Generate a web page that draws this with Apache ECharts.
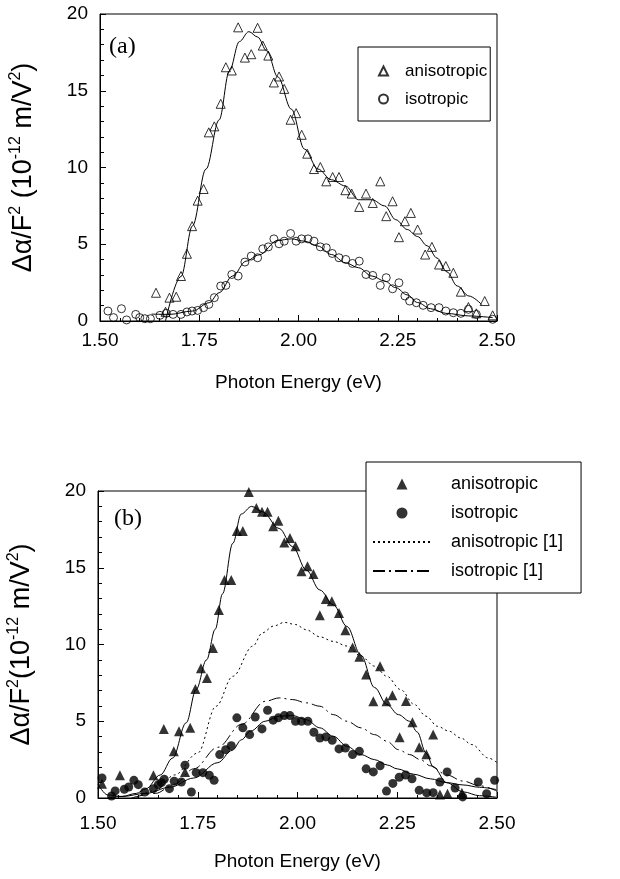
<!DOCTYPE html>
<html>
<head>
<meta charset="utf-8">
<script src="https://cdn.jsdelivr.net/npm/echarts/dist/echarts.min.js"></script>
<style>
  html, body { margin: 0; padding: 0; background: #fff; }
  #chart { width: 620px; height: 879px; }
</style>
</head>
<body>
<div id="chart"></div>
<script>
// ---- panel (a): measured points ----
const aAnisoE = [1.641, 1.665, 1.675, 1.692, 1.704, 1.719, 1.732, 1.746, 1.761, 1.774, 1.788, 1.804, 1.817, 1.832, 1.848, 1.865, 1.881, 1.897, 1.910, 1.924, 1.938, 1.951, 1.964, 1.980, 1.994, 2.008, 2.022, 2.039, 2.055, 2.070, 2.086, 2.102, 2.118, 2.134, 2.153, 2.170, 2.187, 2.206, 2.221, 2.237, 2.253, 2.268, 2.283, 2.300, 2.319, 2.336, 2.354, 2.371, 2.390, 2.409, 2.428, 2.448, 2.469, 2.489];
const aAnisoV = [1.84, 0.6, 1.52, 1.58, 2.93, 4.38, 6.18, 7.84, 8.6, 12.29, 12.68, 14.15, 16.53, 16.32, 19.13, 17.16, 17.38, 19.1, 17.94, 17.29, 15.54, 15.93, 15.12, 13.11, 13.54, 12.13, 10.9, 9.9, 10.03, 9.1, 9.38, 9.38, 8.52, 8.3, 7.43, 8.3, 7.69, 9.1, 6.83, 7.8, 5.46, 6.5, 7.04, 5.96, 4.33, 4.83, 3.68, 3.58, 3.14, 1.91, 0.91, 0.5, 1.3, 0.37];

const aIsoE = [1.520, 1.534, 1.554, 1.567, 1.590, 1.600, 1.613, 1.627, 1.651, 1.667, 1.684, 1.704, 1.719, 1.732, 1.746, 1.761, 1.774, 1.788, 1.804, 1.817, 1.832, 1.848, 1.865, 1.881, 1.897, 1.910, 1.924, 1.938, 1.951, 1.964, 1.980, 1.994, 2.008, 2.024, 2.039, 2.055, 2.070, 2.085, 2.102, 2.119, 2.136, 2.153, 2.170, 2.187, 2.206, 2.221, 2.237, 2.253, 2.268, 2.280, 2.297, 2.314, 2.334, 2.354, 2.371, 2.390, 2.409, 2.428, 2.448, 2.489];
const aIsoV = [0.65, 0.22, 0.8, 0.07, 0.43, 0.22, 0.15, 0.15, 0.37, 0.5, 0.43, 0.43, 0.59, 0.65, 0.69, 0.87, 1.08, 1.52, 2.28, 2.32, 3.03, 2.93, 3.84, 4.23, 4.12, 4.7, 4.83, 5.35, 5.03, 5.2, 5.7, 5.2, 5.35, 5.35, 5.2, 4.83, 4.77, 4.4, 4.12, 4.01, 3.75, 3.9, 3.03, 2.97, 2.32, 2.82, 2.1, 2.49, 1.63, 1.3, 1.19, 1.02, 0.87, 0.87, 0.65, 0.54, 0.5, 0.76, 0.43, 0.11];

// ---- panel (a): fitted curves ----
const aAnisoFitE = [1.665, 1.704, 1.733, 1.767, 1.800, 1.826, 1.851, 1.875, 1.897, 1.920, 1.948, 1.982, 2.015, 2.049, 2.083, 2.118, 2.151, 2.185, 2.217, 2.245, 2.274, 2.300, 2.324, 2.349, 2.374, 2.400, 2.429, 2.461];
const aAnisoFitV = [0.0, 2.9, 6.2, 9.9, 13.1, 16.3, 18.2, 18.85, 18.5, 17.6, 15.9, 13.8, 11.2, 9.9, 9.2, 8.8, 7.9, 7.9, 7.5, 6.6, 5.96, 5.5, 4.9, 4.1, 3.2, 2.28, 1.63, 1.08];

const aIsoFitE = [1.630, 1.675, 1.733, 1.775, 1.800, 1.834, 1.868, 1.900, 1.948, 1.982, 2.015, 2.049, 2.083, 2.118, 2.151, 2.185, 2.217, 2.245, 2.274, 2.300, 2.333, 2.371, 2.429, 2.489];
const aIsoFitV = [0.45, 0.43, 0.65, 1.19, 1.84, 2.93, 3.9, 4.3, 5.25, 5.35, 5.2, 4.88, 4.33, 3.8, 3.47, 2.93, 2.6, 2.17, 1.7, 1.2, 0.8, 0.5, 0.33, 0.22];

// ---- panel (b): measured points ----
const bAnisoE = [1.510, 1.555, 1.639, 1.665, 1.690, 1.703, 1.718, 1.731, 1.744, 1.758, 1.773, 1.788, 1.803, 1.817, 1.834, 1.848, 1.863, 1.878, 1.897, 1.911, 1.925, 1.939, 1.952, 1.967, 1.981, 1.995, 2.010, 2.025, 2.040, 2.056, 2.071, 2.086, 2.104, 2.120, 2.138, 2.155, 2.172, 2.190, 2.207, 2.223, 2.238, 2.256, 2.272, 2.288, 2.305, 2.323, 2.340, 2.357, 2.376, 2.412];
const bAnisoV = [0.93, 1.48, 1.48, 4.5, 3.04, 4.35, 1.7, 4.57, 7.1, 8.46, 7.81, 9.77, 12.25, 14.2, 14.2, 17.4, 17.4, 19.93, 18.9, 18.65, 18.65, 17.7, 18.06, 16.65, 16.93, 16.4, 14.77, 15.1, 14.6, 11.9, 12.97, 12.82, 12.06, 10.93, 9.8, 9.2, 8.05, 6.3, 8.59, 6.3, 6.7, 3.95, 6.32, 4.93, 3.3, 2.85, 4.13, 0.22, 0.28, 0.35];

const bIsoE = [1.510, 1.534, 1.543, 1.566, 1.577, 1.590, 1.601, 1.617, 1.639, 1.651, 1.659, 1.666, 1.679, 1.691, 1.709, 1.718, 1.734, 1.746, 1.763, 1.779, 1.791, 1.805, 1.820, 1.834, 1.848, 1.863, 1.880, 1.894, 1.911, 1.925, 1.939, 1.952, 1.967, 1.981, 1.995, 2.010, 2.026, 2.041, 2.056, 2.071, 2.087, 2.104, 2.120, 2.138, 2.155, 2.172, 2.190, 2.207, 2.223, 2.239, 2.255, 2.271, 2.287, 2.305, 2.324, 2.340, 2.357, 2.375, 2.395, 2.414, 2.453, 2.474, 2.494];
const bIsoV = [1.3, 0.13, 0.46, 0.57, 0.72, 1.15, 0.87, 0.39, 0.61, 0.87, 1.0, 1.22, 0.61, 1.09, 1.04, 2.13, 0.39, 1.65, 1.65, 1.48, 1.15, 2.83, 3.15, 3.41, 5.22, 4.57, 4.13, 5.28, 4.5, 5.72, 5.07, 5.22, 5.37, 5.37, 5.0, 5.0, 5.0, 4.28, 3.91, 3.98, 3.76, 3.2, 3.26, 2.83, 3.04, 1.9, 1.7, 2.1, 0.45, 0.95, 1.35, 1.5, 1.25, 0.5, 0.33, 0.35, 1.04, 1.7, 0.65, 0.07, 1.04, 0.28, 1.15];

// ---- panel (b): fitted curves and the curves of ref. [1] ----
const bAnisoFitE = [1.500, 1.524, 1.560, 1.596, 1.620, 1.656, 1.687, 1.721, 1.746, 1.772, 1.794, 1.812, 1.838, 1.859, 1.885, 1.912, 1.954, 1.988, 2.022, 2.056, 2.090, 2.124, 2.159, 2.193, 2.224, 2.253, 2.281, 2.300, 2.322, 2.341, 2.374, 2.415, 2.456, 2.498];
const bAnisoFitV = [0.9, 0.2, 0.1, 0.3, 0.6, 1.5, 2.6, 4.9, 7.07, 9.0, 11.0, 13.3, 16.6, 18.5, 19.0, 18.65, 17.56, 16.37, 14.85, 13.55, 12.58, 11.17, 9.3, 7.2, 6.09, 5.43, 5.0, 4.3, 2.93, 2.0, 1.0, 0.4, 0.15, 0.05];

const bIsoFitE = [1.524, 1.560, 1.620, 1.680, 1.740, 1.800, 1.836, 1.860, 1.882, 1.919, 1.954, 1.988, 2.022, 2.056, 2.090, 2.124, 2.159, 2.193, 2.225, 2.250, 2.291, 2.333, 2.374, 2.415, 2.456, 2.498];
const bIsoFitV = [0.0, 0.1, 0.3, 0.7, 1.3, 2.3, 3.1, 3.8, 4.35, 5.0, 5.33, 5.37, 5.1, 4.57, 4.02, 3.37, 2.83, 2.5, 2.15, 1.9, 1.55, 1.25, 1.0, 0.85, 0.7, 0.55];

const refAnisoE = [1.596, 1.644, 1.692, 1.750, 1.796, 1.838, 1.888, 1.912, 1.940, 1.967, 1.995, 2.022, 2.056, 2.090, 2.124, 2.159, 2.193, 2.224, 2.258, 2.293, 2.322, 2.351, 2.380, 2.409, 2.437, 2.478, 2.500];
const refAnisoV = [0.0, 0.5, 1.5, 2.93, 5.98, 7.93, 9.89, 10.76, 11.2, 11.44, 11.3, 10.96, 10.5, 10.2, 9.9, 9.24, 8.59, 7.93, 7.07, 6.09, 5.33, 4.67, 4.35, 3.91, 3.48, 2.61, 2.3];

const refIsoE = [1.584, 1.644, 1.692, 1.740, 1.800, 1.860, 1.919, 1.954, 1.988, 2.022, 2.056, 2.090, 2.124, 2.159, 2.193, 2.224, 2.253, 2.281, 2.308, 2.333, 2.374, 2.415, 2.456, 2.500];
const refIsoV = [0.0, 0.3, 0.9, 1.9, 3.3, 4.8, 6.3, 6.52, 6.41, 6.2, 5.98, 5.43, 5.0, 4.57, 4.13, 3.7, 3.15, 2.83, 2.5, 2.1, 1.5, 1.1, 0.8, 0.45];

// ---- axis ticks ----
const xTicks = ['1.50', '1.75', '2.00', '2.25', '2.50'];
const yTicks = ['0', '5', '10', '15', '20'];

const pairs = (xs, ys) => xs.map((x, i) => [x, ys[i]]);

const FONT = 'Liberation Sans, Arial, sans-serif';
const SERIF = 'Liberation Serif, Times New Roman, serif';
const BLACK = '#000';

function xAxisFor(gridIndex, labelMargin, nameGap) {
  return {
    type: 'value', gridIndex,
    min: Number(xTicks[0]), max: Number(xTicks[xTicks.length - 1]), interval: 0.25,
    axisLine: { show: true, lineStyle: { color: BLACK, width: 1 } },
    axisTick: { show: true, inside: true, length: 6, lineStyle: { color: BLACK } },
    minorTick: { show: true, splitNumber: 5, length: 3, lineStyle: { color: BLACK } },
    splitLine: { show: false },
    axisLabel: { color: BLACK, fontFamily: FONT, fontSize: 19, margin: labelMargin,
      formatter: v => xTicks.find(t => Math.abs(Number(t) - v) < 1e-6) || '' },
    name: 'Photon Energy (eV)', nameLocation: 'middle', nameGap,
    nameTextStyle: { color: BLACK, fontFamily: FONT, fontSize: 19 }
  };
}

function yAxisFor(gridIndex, nameRich) {
  return {
    type: 'value', gridIndex,
    min: Number(yTicks[0]), max: Number(yTicks[yTicks.length - 1]), interval: 5,
    axisLine: { show: true, lineStyle: { color: BLACK, width: 1 } },
    axisTick: { show: true, inside: true, length: 6, lineStyle: { color: BLACK } },
    minorTick: { show: true, splitNumber: 5, length: 4, lineStyle: { color: BLACK } },
    splitLine: { show: false },
    axisLabel: { color: BLACK, fontFamily: FONT, fontSize: 19, margin: 12,
      formatter: v => yTicks.find(t => Math.abs(Number(t) - v) < 1e-6) || '' },
    name: nameRich, nameLocation: 'middle', nameGap: 60,
    nameTextStyle: {
      color: BLACK, fontFamily: FONT, fontSize: 27,
      rich: {
        n: { fontFamily: FONT, fontSize: 27, color: BLACK, lineHeight: 32 },
        s: { fontFamily: FONT, fontSize: 16, color: BLACK, lineHeight: 32, verticalAlign: 'top' }
      }
    }
  };
}

const hollow = { color: 'rgba(255,255,255,0)', borderColor: BLACK, borderWidth: 1 };
const filled = { color: BLACK, borderColor: BLACK, borderWidth: 0 };
const fitLine = { color: BLACK, width: 1 };
const noMarker = { color: 'rgba(0,0,0,0)', borderWidth: 0 };
const TRI = 'path://M0,10L5,0L10,10Z';

const option = {
  animation: false,
  backgroundColor: '#fff',
  grid: [
    { left: 100, top: 14, width: 397, height: 307, show: true, borderColor: BLACK, borderWidth: 1, backgroundColor: 'transparent', outerBoundsMode: 'none' },
    { left: 98, top: 491, width: 399, height: 307, show: true, borderColor: BLACK, borderWidth: 1, backgroundColor: 'transparent', outerBoundsMode: 'none' }
  ],
  xAxis: [xAxisFor(0, 10, 52), xAxisFor(1, 16, 54)],
  yAxis: [
    yAxisFor(0, '{n|Δα/F}{s|2}{n| (10}{s|-12}{n| m/V}{s|2}{n|)}'),
    yAxisFor(1, '{n|Δα/F}{s|2}{n|(10}{s|-12}{n| m/V}{s|2}{n|)}')
  ],
  legend: [
    {
      data: [{ name: 'anisotropic', icon: TRI }, { name: 'isotropic', icon: 'circle' }],
      orient: 'vertical', left: 358, top: 47,
      padding: [14, 3, 12, 20], itemGap: 8, itemWidth: 9, itemHeight: 9,
      backgroundColor: '#fff', borderColor: BLACK, borderWidth: 1,
      textStyle: { color: BLACK, fontFamily: FONT, fontSize: 17, lineHeight: 20, padding: [0, 0, 0, 12] },
      selectedMode: false
    },
    {
      data: [
        { name: 'anisotropic ', icon: TRI },
        { name: 'isotropic ', icon: 'circle' },
        { name: 'anisotropic [1]', itemStyle: { opacity: 0 } },
        { name: 'isotropic [1]', itemStyle: { opacity: 0 } }
      ],
      orient: 'vertical', left: 366, top: 462,
      padding: [11, 18, 11, 6], itemGap: 7, itemWidth: 58, itemHeight: 11,
      backgroundColor: '#fff', borderColor: BLACK, borderWidth: 1,
      textStyle: { color: BLACK, fontFamily: FONT, fontSize: 18, lineHeight: 22, padding: [0, 0, 0, 15] },
      selectedMode: false, z: 10,
      formatter: n => n.trim()
    }
  ],
  graphic: [
    { type: 'text', left: 109, top: 35, z: 20,
      style: { text: '(a)', fontFamily: SERIF, fontSize: 24, fill: BLACK } },
    { type: 'text', left: 114, top: 507, z: 20,
      style: { text: '(b)', fontFamily: SERIF, fontSize: 24, fill: BLACK } }
  ],
  series: [
    // panel (a)
    { name: 'fit a1', type: 'line', xAxisIndex: 0, yAxisIndex: 0, data: pairs(aAnisoFitE, aAnisoFitV),
      symbol: 'none', smooth: 0.35, smoothMonotone: 'x', lineStyle: fitLine, itemStyle: noMarker, z: 2 },
    { name: 'fit a2', type: 'line', xAxisIndex: 0, yAxisIndex: 0, data: pairs(aIsoFitE, aIsoFitV),
      symbol: 'none', smooth: 0.35, smoothMonotone: 'x', lineStyle: fitLine, itemStyle: noMarker, z: 2 },
    { name: 'anisotropic', type: 'scatter', xAxisIndex: 0, yAxisIndex: 0, data: pairs(aAnisoE, aAnisoV),
      symbol: 'triangle', symbolSize: 9, itemStyle: hollow, z: 3 },
    { name: 'isotropic', type: 'scatter', xAxisIndex: 0, yAxisIndex: 0, data: pairs(aIsoE, aIsoV),
      symbol: 'circle', symbolSize: 8, itemStyle: hollow, z: 3 },

    // panel (b)
    { name: 'fit b1', type: 'line', xAxisIndex: 1, yAxisIndex: 1, data: pairs(bAnisoFitE, bAnisoFitV),
      symbol: 'none', smooth: 0.35, smoothMonotone: 'x', lineStyle: fitLine, itemStyle: noMarker, z: 2 },
    { name: 'fit b2', type: 'line', xAxisIndex: 1, yAxisIndex: 1, data: pairs(bIsoFitE, bIsoFitV),
      symbol: 'none', smooth: 0.35, smoothMonotone: 'x', lineStyle: fitLine, itemStyle: noMarker, z: 2 },
    { name: 'anisotropic [1]', type: 'line', xAxisIndex: 1, yAxisIndex: 1, data: pairs(refAnisoE, refAnisoV),
      symbol: 'none', smooth: 0.35, smoothMonotone: 'x', itemStyle: noMarker,
      lineStyle: { color: BLACK, width: 1, type: [2, 3] }, z: 2 },
    { name: 'isotropic [1]', type: 'line', xAxisIndex: 1, yAxisIndex: 1, data: pairs(refIsoE, refIsoV),
      symbol: 'none', smooth: 0.35, smoothMonotone: 'x', itemStyle: noMarker,
      lineStyle: { color: BLACK, width: 1, type: [12, 4, 2, 4] }, z: 2 },
    { name: 'anisotropic ', type: 'scatter', xAxisIndex: 1, yAxisIndex: 1, data: pairs(bAnisoE, bAnisoV),
      symbol: 'triangle', symbolSize: 10, itemStyle: filled, z: 3 },
    { name: 'isotropic ', type: 'scatter', xAxisIndex: 1, yAxisIndex: 1, data: pairs(bIsoE, bIsoV),
      symbol: 'circle', symbolSize: 9, itemStyle: filled, z: 3 }
  ]
};

const chart = echarts.init(document.getElementById('chart'), null, { renderer: 'canvas' });
chart.setOption(option);
</script>
</body>
</html>
